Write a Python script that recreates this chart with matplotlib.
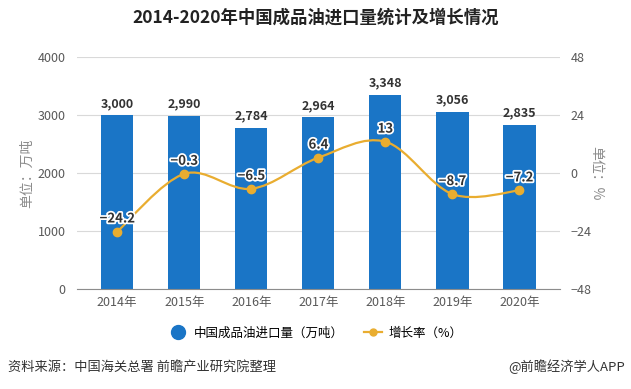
import matplotlib
matplotlib.use("Agg")
import matplotlib.pyplot as plt
import matplotlib.patheffects as pe
from matplotlib.path import Path
from matplotlib.patches import PathPatch
from matplotlib.lines import Line2D
import numpy as np

plt.rcParams['font.family'] = ['Noto Sans CJK SC', 'DejaVu Sans']
plt.rcParams['axes.unicode_minus'] = True

years = ['2014年', '2015年', '2016年', '2017年', '2018年', '2019年', '2020年']
imports = [3000, 2990, 2784, 2964, 3348, 3056, 2835]
growth = [-24.2, -0.3, -6.5, 6.4, 13, -8.7, -7.2]
growth_labels = ['−24.2', '−0.3', '−6.5', '6.4', '13', '−8.7', '−7.2']

bar_color = '#1a75c6'
line_color = '#e9ad30'
tick_color = '#595959'


def smooth_path(xs, ys, k=1 / 6):
    # catmull-rom style bezier control points
    verts = [(xs[0], ys[0])]
    codes = [Path.MOVETO]
    n = len(xs)
    for i in range(n - 1):
        x0, y0 = (xs[i - 1], ys[i - 1]) if i > 0 else (xs[i], ys[i])
        x1, y1 = xs[i], ys[i]
        x2, y2 = xs[i + 1], ys[i + 1]
        x3, y3 = (xs[i + 2], ys[i + 2]) if i + 2 < n else (x2, y2)
        c1 = (x1 + (x2 - x0) * k, y1 + (y2 - y0) * k)
        c2 = (x2 - (x3 - x1) * k, y2 - (y3 - y1) * k)
        verts += [c1, c2, (x2, y2)]
        codes += [Path.CURVE4] * 3
    return Path(verts, codes)


fig = plt.figure(figsize=(6.31, 3.89), dpi=100)
ax = fig.add_axes([0.122, 0.257, 0.765, 0.596])
ax2 = ax.twinx()

x = np.arange(len(years))
bars = ax.bar(x, imports, width=0.48, color=bar_color, zorder=2)
for b, v in zip(bars, imports):
    ax.text(b.get_x() + b.get_width() / 2, v + 90, f'{v:,}', ha='center', va='bottom',
            fontsize=9, fontweight='bold', color='#333333')

ax.set_ylim(0, 4000)
ax.set_yticks([0, 1000, 2000, 3000, 4000])
ax.set_xlim(-0.6, 6.6)
ax.set_xticks(x)
ax.set_xticklabels(years)
ax.grid(axis='y', color='#d9d9d9', linewidth=0.8, zorder=0)
ax.set_axisbelow(True)
for s in ['top', 'right', 'left']:
    ax.spines[s].set_visible(False)
ax.spines['bottom'].set_color('#8c8c8c')
ax.tick_params(axis='y', length=0, labelsize=9, labelcolor=tick_color, pad=8)
ax.tick_params(axis='x', length=0, labelsize=9, labelcolor=tick_color, pad=5)
ax.set_ylabel('单位：万吨', fontsize=10, color='#8c8c8c', labelpad=3)

ax2.set_ylim(-48, 48)
ax2.set_yticks([-48, -24, 0, 24, 48])
for s in ['top', 'right', 'left', 'bottom']:
    ax2.spines[s].set_visible(False)
ax2.tick_params(axis='y', length=0, labelsize=9, labelcolor=tick_color, pad=8)
ax2.set_ylabel('单位：%', fontsize=10, color='#8c8c8c', rotation=270, labelpad=8)

ax2.add_patch(PathPatch(smooth_path(list(x), growth), facecolor='none',
                        edgecolor=line_color, linewidth=1.6, zorder=3))
ax2.plot(x, growth, 'o', color=line_color, markersize=6, zorder=4)
for xi, g, lab in zip(x, growth, growth_labels):
    ax2.text(xi, g + 2.5, lab, ha='center', va='bottom', fontsize=9.5, fontweight='bold',
             color='#333333', zorder=5,
             path_effects=[pe.withStroke(linewidth=2.5, foreground='white')])

fig.suptitle('2014-2020年中国成品油进口量统计及增长情况', y=0.978, fontsize=12.5,
             fontweight='bold', color='#222222')

handles = [Line2D([], [], marker='o', linestyle='none', color=bar_color, markersize=10),
           Line2D([], [], marker='o', color=line_color, markersize=5, linewidth=1.6)]
fig.legend(handles, ['中国成品油进口量（万吨）', '增长率（%）'], loc='center',
           bbox_to_anchor=(0.5, 0.143), ncol=2, frameon=False, fontsize=9,
           handlelength=1.5, columnspacing=1.6, handletextpad=0.5)

fig.text(0.013, 0.057, '资料来源：中国海关总署 前瞻产业研究院整理', fontsize=9.5, color='#333333',
         va='center')
fig.text(0.99, 0.057, '@前瞻经济学人APP', fontsize=9.5, color='#333333', ha='right', va='center')

fig.savefig('out.png', dpi=100)
